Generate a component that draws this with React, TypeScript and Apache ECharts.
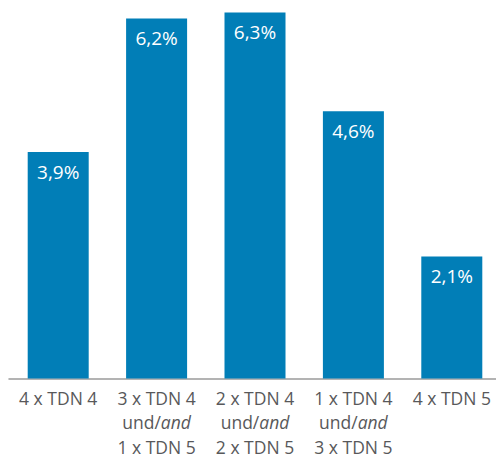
import React, { useEffect, useRef } from "react";
import * as echarts from "echarts";

// Share per configuration (percent)
const categories: string[] = [
  "4 x TDN 4",
  "3 x TDN 4\nund/{i|and}\n1 x TDN 5",
  "2 x TDN 4\nund/{i|and}\n2 x TDN 5",
  "1 x TDN 4\nund/{i|and}\n3 x TDN 5",
  "4 x TDN 5",
];
const values: number[] = [3.9, 6.2, 6.3, 4.6, 2.1];

const BAR_COLOR = "#017eb7";
const TEXT_COLOR = "#58585a";
const FONT = "'Open Sans', 'Noto Sans', sans-serif";

export default function App() {
  const ref = useRef<HTMLDivElement>(null);

  useEffect(() => {
    if (!ref.current) return;
    const chart = echarts.init(ref.current, undefined, { renderer: "svg" });
    chart.setOption({
      animation: false,
      grid: { left: 9, right: 0, top: 1, bottom: 80, containLabel: false },
      xAxis: {
        type: "category",
        data: categories,
        axisLine: { show: true, lineStyle: { color: "#9a9a9a", width: 1.5 } },
        axisTick: { show: false },
        axisLabel: {
          interval: 0,
          margin: 7,
          color: TEXT_COLOR,
          fontFamily: FONT,
          fontSize: 17.5,
          lineHeight: 24.5,
          rich: {
            i: {
              fontStyle: "italic",
              color: TEXT_COLOR,
              fontFamily: FONT,
              fontSize: 17.5,
              lineHeight: 24.5,
            },
          },
        },
      },
      yAxis: {
        type: "value",
        min: 0,
        max: 6.5,
        show: false,
        splitLine: { show: false },
      },
      series: [
        {
          type: "bar",
          data: values,
          barWidth: 61,
          itemStyle: { color: BAR_COLOR },
          label: {
            show: true,
            position: "insideTop",
            distance: 10,
            color: "#ffffff",
            fontFamily: FONT,
            fontSize: 19,
            formatter: (p: any) => p.value.toFixed(1).replace(".", ",") + "%",
          },
        },
      ],
    });
    return () => chart.dispose();
  }, []);

  return (
    <div
      style={{
        position: "fixed",
        left: 0,
        top: 0,
        width: 496,
        height: 459,
        overflow: "hidden",
        background: "#ffffff",
      }}
    >
      <div ref={ref} style={{ width: 501, height: 459 }} />
    </div>
  );
}
